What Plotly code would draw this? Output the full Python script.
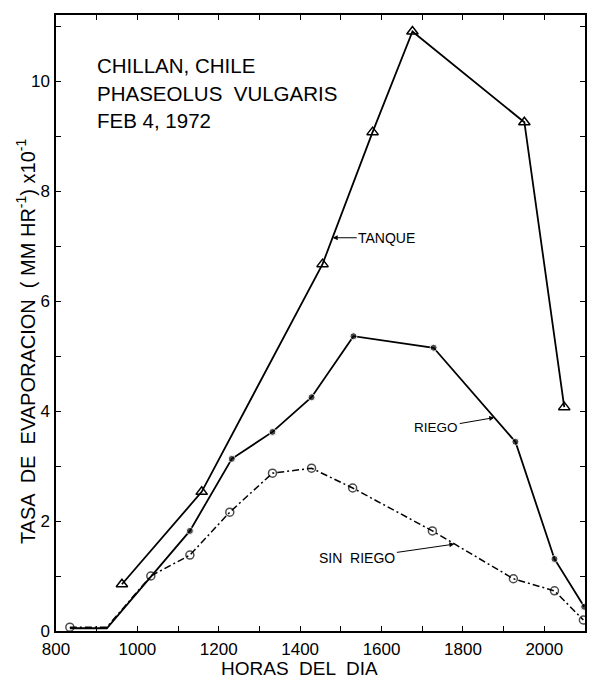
import plotly.graph_objects as go

# Data
tanque_x = [962, 1158, 1455, 1578, 1676, 1951, 2049]
tanque_y = [0.85, 2.53, 6.67, 9.07, 10.9, 9.25, 4.07]

riego_x = [834, 925, 1129, 1232, 1332, 1428, 1531, 1728, 1929, 2025, 2098]
riego_y = [0.05, 0.05, 1.82, 3.13, 3.62, 4.25, 5.36, 5.15, 3.44, 1.31, 0.44]

sin_riego_x = [834, 925, 1033, 1129, 1227, 1332, 1428, 1529, 1725, 1924, 2025, 2096]
sin_riego_y = [0.07, 0.07, 1.0, 1.38, 2.16, 2.87, 2.96, 2.6, 1.82, 0.95, 0.73, 0.2]

FONT = "Liberation Sans, Arial, sans-serif"

fig = go.Figure()

fig.add_trace(go.Scatter(
    x=sin_riego_x, y=sin_riego_y, mode="lines+markers", name="SIN RIEGO",
    line=dict(color="black", width=1.5, dash="7px,3px,2px,3px"),
    marker=dict(symbol="circle-open", size=[8, 0] + [8] * (len(sin_riego_x) - 2),
                color="black", line=dict(width=1.5)),
))
fig.add_trace(go.Scatter(
    x=riego_x, y=riego_y, mode="lines+markers", name="RIEGO",
    line=dict(color="black", width=1.8),
    marker=dict(symbol="circle", size=[0, 0] + [7] * (len(riego_x) - 2),
                color="black"),
))
fig.add_trace(go.Scatter(
    x=tanque_x, y=tanque_y, mode="lines+markers", name="TANQUE",
    line=dict(color="black", width=1.8),
    marker=dict(symbol="triangle-up-open", size=10, color="black",
                line=dict(width=1.5)),
))

annots = []
# header text
for i, t in enumerate(["CHILLAN, CHILE", "PHASEOLUS  VULGARIS", "FEB 4, 1972"]):
    annots.append(dict(xref="paper", yref="paper", x=(95 - 56) / 531,
                       y=(631 - (65 + 28 * i)) / 616, text=t, showarrow=False,
                       xanchor="left", yanchor="middle",
                       font=dict(family=FONT, size=20.5, color="black")))

# series labels with arrows
annots.append(dict(x=1480, y=7.15, xref="x", yref="y", text="TANQUE",
                   showarrow=True, ax=54, ay=0, arrowhead=2, arrowsize=1,
                   arrowwidth=1, arrowcolor="black",
                   font=dict(family=FONT, size=14, color="black")))
annots.append(dict(x=1877, y=3.88, xref="x", yref="y", text="RIEGO",
                   showarrow=True, ax=-58, ay=10, arrowhead=2, arrowsize=1,
                   arrowwidth=1, arrowcolor="black",
                   font=dict(family=FONT, size=13.5, color="black")))
annots.append(dict(x=1779, y=1.58, xref="x", yref="y", text="SIN  RIEGO",
                   showarrow=True, ax=-97, ay=14, arrowhead=2, arrowsize=1,
                   arrowwidth=1, arrowcolor="black",
                   font=dict(family=FONT, size=14, color="black")))

# axis titles
annots.append(dict(xref="paper", yref="paper", x=(300 - 56) / 531, y=-(668 - 631) / 616,
                   text="HORAS  DEL  DIA", showarrow=False, xanchor="center",
                   yanchor="middle", font=dict(family=FONT, size=19, color="black")))
annots.append(dict(xref="paper", yref="paper", x=-(56 - 25) / 531, y=(631 - 341) / 616,
                   text="TASA  DE  EVAPORACION  ( MM HR<sup>-1</sup>) x10<sup>-1</sup>",
                   showarrow=False, textangle=-90, xanchor="center",
                   yanchor="middle", font=dict(family=FONT, size=20, color="black")))

axis_common = dict(showline=True, linecolor="black", linewidth=1.5, mirror="ticks",
                   ticks="inside", ticklen=5, tickcolor="black", tickwidth=1.2,
                   showgrid=False, zeroline=False,
                   tickfont=dict(family=FONT, size=17, color="black"))

fig.update_layout(
    width=590, height=679,
    margin=dict(l=56, r=3, t=15, b=48),
    paper_bgcolor="white", plot_bgcolor="white",
    showlegend=False,
    xaxis=dict(range=[800, 2100], tick0=800, dtick=200, ticklabelstandoff=2,
               minor=dict(dtick=100, tick0=800, ticks="inside", ticklen=5,
                          tickcolor="black", tickwidth=1.2, showgrid=False),
               **axis_common),
    yaxis=dict(range=[0, 11.2], tick0=0, dtick=2, ticklabelstandoff=1,
               minor=dict(dtick=1, tick0=0, ticks="inside", ticklen=5,
                          tickcolor="black", tickwidth=1.2, showgrid=False),
               **axis_common),
    annotations=annots,
)

fig.write_html("out.html")
